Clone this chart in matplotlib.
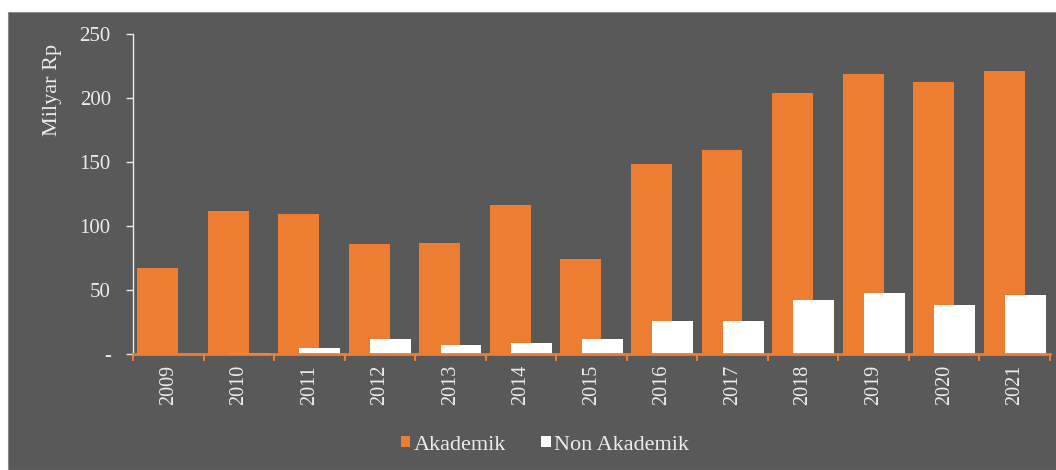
import matplotlib.pyplot as plt
from matplotlib.patches import Rectangle

years = ["2009", "2010", "2011", "2012", "2013", "2014", "2015",
         "2016", "2017", "2018", "2019", "2020", "2021"]
akademik = [67, 111.5, 109.5, 85.5, 86.5, 116.5, 74.5, 148, 159, 204, 218.5, 212.5, 221]
non_akademik = [0.3, 1, 4.5, 12, 7, 8.5, 11.5, 25.5, 25.5, 42.5, 47.5, 38, 46]

bg = "#595959"
orange = "#ED7D31"
text_color = "#ECECEC"

plt.rcParams["font.family"] = ["Liberation Serif", "DejaVu Serif"]

fig = plt.figure(figsize=(10.56, 4.70), dpi=100)
fig.patch.set_facecolor("white")
fig.add_artist(Rectangle((8 / 1056, 0), 1 - 8 / 1056, 1 - 12 / 470,
                         transform=fig.transFigure, facecolor=bg,
                         edgecolor="#8a8a8a", linewidth=0.8, zorder=0))

ax = fig.add_axes([133 / 1056, 1 - 354 / 470, 917 / 1056, (354 - 33.7) / 470])
ax.set_facecolor("none")

x = list(range(len(years)))
width = 0.58
shift = 0.15
ax.bar([i - shift for i in x], akademik, width, color=orange, label="Akademik", zorder=2)
ax.bar([i + shift for i in x], non_akademik, width, color="white", label="Non Akademik", zorder=3)

ax.set_xlim(-0.5, len(years) - 0.5)
ax.set_ylim(0, 250)

ax.set_yticks([0, 50, 100, 150, 200, 250])
ax.set_yticklabels(["-", "50", "100", "150", "200", "250"])
ax.tick_params(axis="y", colors=text_color, labelsize=15, length=5, width=1, direction="out", pad=11)

ax.set_xticks(x)
ax.set_xticklabels(years, rotation=90)
ax.set_xticks([i - 0.5 for i in range(len(years) + 1)], minor=True)
ax.tick_params(axis="x", which="major", length=0, labelcolor=text_color, labelsize=14.5, pad=8)
ax.tick_params(axis="x", which="minor", length=5, width=1.5, color=orange)

for side in ("top", "right"):
    ax.spines[side].set_visible(False)
ax.spines["left"].set_color(text_color)
ax.spines["left"].set_linewidth(1)
ax.spines["bottom"].set_color(orange)
ax.spines["bottom"].set_linewidth(2)
ax.spines["bottom"].set_zorder(4)

fig.text(52 / 1056, 1 - 90 / 470, "Milyar Rp", rotation=90, ha="center", va="center",
         color=text_color, fontsize=16)

leg = fig.legend(loc="center", bbox_to_anchor=(545 / 1056, 1 - 445 / 470), ncol=2,
                 frameon=False, fontsize=16, handlelength=0.42, handleheight=0.42,
                 handletextpad=0.15, columnspacing=1.6)
for t in leg.get_texts():
    t.set_color(text_color)

fig.savefig("out.png", dpi=100, facecolor=fig.get_facecolor())
